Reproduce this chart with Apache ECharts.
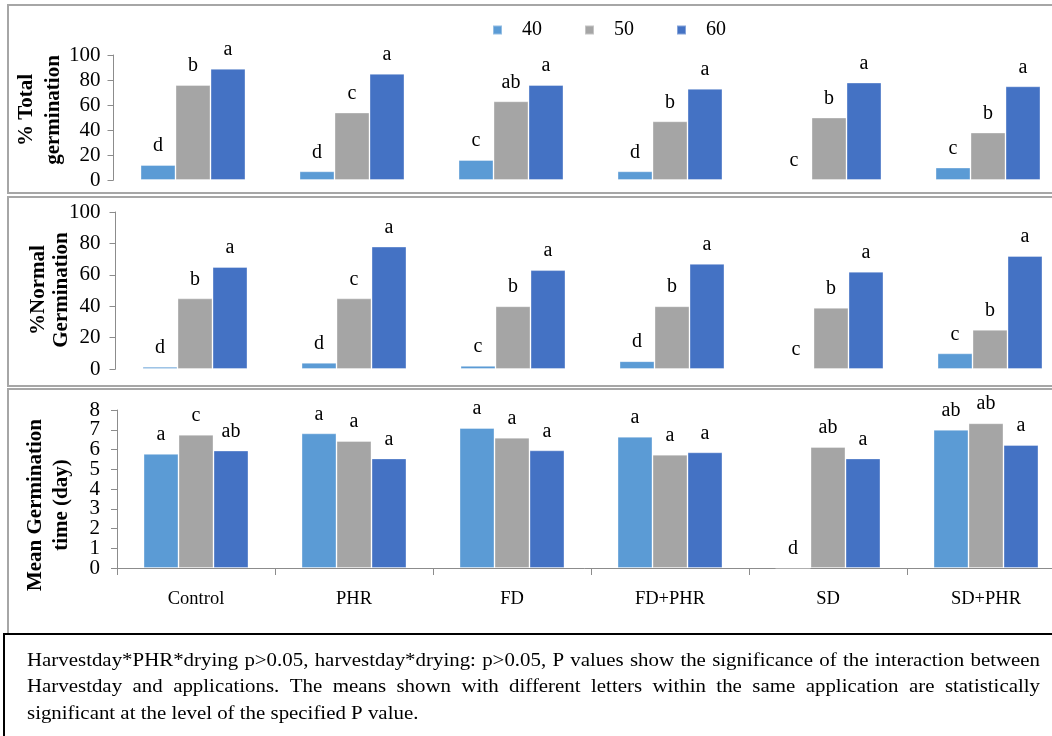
<!DOCTYPE html>
<html>
<head>
<meta charset="utf-8">
<script src="https://cdn.jsdelivr.net/npm/echarts@6/dist/echarts.min.js"></script>
<style>
html,body{margin:0;padding:0;background:#fff;}
#chart{width:1052px;height:736px;}
</style>
</head>
<body>
<div id="chart"></div>
<script>
const categories = ['Control', 'PHR', 'FD', 'FD+PHR', 'SD', 'SD+PHR'];
const harvestDays = ['40', '50', '60'];

const totalGerm40 = [12, 7, 16, 7, 0, 10];
const totalGerm50 = [76, 54, 63, 47, 50, 38];
const totalGerm60 = [89, 85, 76, 73, 78, 75];
const totalLetters40 = ['d', 'd', 'c', 'd', 'c', 'c'];
const totalLetters50 = ['b', 'c', 'ab', 'b', 'b', 'b'];
const totalLetters60 = ['a', 'a', 'a', 'a', 'a', 'a'];

const normalGerm40 = [1.5, 4, 2, 5, 0, 10];
const normalGerm50 = [45, 45, 40, 40, 39, 25];
const normalGerm60 = [65, 78, 63, 67, 62, 72];
const normalLetters40 = ['d', 'd', 'c', 'd', 'c', 'c'];
const normalLetters50 = ['b', 'c', 'b', 'b', 'b', 'b'];
const normalLetters60 = ['a', 'a', 'a', 'a', 'a', 'a'];

const mgt40 = [5.78, 6.82, 7.09, 6.65, 0, 7.0];
const mgt50 = [6.75, 6.43, 6.6, 5.74, 6.13, 7.33];
const mgt60 = [5.95, 5.55, 5.96, 5.86, 5.55, 6.23];
const mgtLetters40 = ['a', 'a', 'a', 'a', 'd', 'ab'];
const mgtLetters50 = ['c', 'a', 'a', 'a', 'ab', 'ab'];
const mgtLetters60 = ['ab', 'a', 'a', 'a', 'a', 'a'];

const axisNames = ['% Total\ngermination', '%Normal\nGermination', 'Mean Germination\ntime (day)'];

const captionLines = [
  'Harvestday*PHR*drying p>0.05, harvestday*drying: p>0.05, P values show the significance of the interaction between',
  'Harvestday and applications. The means shown with different letters within the same application are statistically',
  'significant at the level of the specified P value.'
];

const colors = ['#5B9BD5', '#A5A5A5', '#4472C4'];
const FONT = '"Liberation Serif", "Times New Roman", serif';
const axisGray = '#8c8c8c';

function makeSeries(gridIdx, valuesList, lettersList) {
  return valuesList.map((vals, i) => ({
    name: harvestDays[i],
    type: 'bar',
    xAxisIndex: gridIdx,
    yAxisIndex: gridIdx,
    data: vals,
    barWidth: 35,
    barGap: '0%',
    itemStyle: { color: colors[i], borderColor: 'rgba(255,255,255,0.35)', borderWidth: 1 },
    label: {
      show: true,
      position: 'top',
      distance: 9,
      fontFamily: FONT,
      fontSize: 20,
      color: '#000',
      formatter: p => lettersList[i][p.dataIndex]
    }
  }));
}

function yAxis(gridIdx, max, interval, margin, formatter) {
  return {
    type: 'value',
    gridIndex: gridIdx,
    position: 'left',
    min: 0, max: max, interval: interval,
    axisLine: { show: true, lineStyle: { color: axisGray, width: 1 } },
    axisTick: { show: true, length: 6, lineStyle: { color: axisGray } },
    splitLine: { show: false },
    axisLabel: {
      fontFamily: FONT, fontSize: 21, color: '#000', margin: margin,
      showMinLabel: true, showMaxLabel: true, hideOverlap: false,
      formatter: formatter || (v => String(v))
    }
  };
}

// panel 3: labels split over two overlapping axes so that dense labels are not auto-hidden
const mgtAxisMain = yAxis(2, 8, 1, 17, v => (v % 2 === 0 ? String(v) : ''));
const mgtAxisOdd = yAxis(2, 8, 1, 17, v => (v % 2 === 1 ? String(v) : ''));
mgtAxisOdd.axisLine = { show: false };
mgtAxisOdd.axisTick = { show: false };
mgtAxisOdd.axisLabel.showMinLabel = false;
mgtAxisOdd.axisLabel.showMaxLabel = false;

const chart = echarts.init(document.getElementById('chart'), null, { renderer: 'canvas' });

// justified caption words (the reference text is horizontally stretched)
const SX = 1.16;
const measureCtx = document.createElement('canvas').getContext('2d');
measureCtx.font = '18px ' + FONT;
const captionGraphics = [];
const capLeft = 27, capRight = 1040;
const capY = [661, 687, 714];
captionLines.forEach((line, li) => {
  if (li < 2) {
    const words = line.split(' ');
    const widths = words.map(w => measureCtx.measureText(w).width * SX);
    const total = widths.reduce((a, b) => a + b, 0);
    const gap = (capRight - capLeft - total) / (words.length - 1);
    let x = capLeft;
    words.forEach((w, wi) => {
      captionGraphics.push({
        type: 'text', x: x, y: capY[li], z: 10, scaleX: SX,
        style: { text: w, font: '18px ' + FONT, fill: '#000', verticalAlign: 'middle' }
      });
      x += widths[wi] + gap;
    });
  } else {
    captionGraphics.push({
      type: 'text', x: capLeft, y: capY[li], z: 10, scaleX: SX,
      style: { text: line, font: '18px ' + FONT, fill: '#000', verticalAlign: 'middle' }
    });
  }
});

const nameCenters = [[40.5, 110], [50, 290], [49, 505]];
const nameLineHeights = [27, 23, 26];
const nameGraphics = axisNames.map((t, i) => ({
  type: 'text', x: nameCenters[i][0], y: nameCenters[i][1], rotation: Math.PI / 2, z: 10,
  style: {
    text: t, font: 'bold 21px ' + FONT, fill: '#000',
    align: 'center', verticalAlign: 'middle', lineHeight: nameLineHeights[i]
  }
}));

const gridBase = { outerBoundsMode: 'none', containLabel: false };

const option = {
  animation: false,
  backgroundColor: '#fff',
  legend: {
    data: harvestDays,
    left: 492,
    top: 20,
    padding: 0,
    icon: 'rect',
    itemWidth: 9,
    itemHeight: 9,
    itemGap: 42,
    textStyle: { fontFamily: FONT, fontSize: 20, color: '#000', padding: [0, 0, 0, 15] }
  },
  grid: [
    Object.assign({ left: 113.5, top: 55, height: 125, width: 954 }, gridBase),
    Object.assign({ left: 115.5, top: 212, height: 157, width: 954 }, gridBase),
    Object.assign({ left: 117, top: 410, height: 158, width: 948 }, gridBase)
  ],
  xAxis: [
    { type: 'category', gridIndex: 0, data: categories, show: false },
    { type: 'category', gridIndex: 1, data: categories, show: false },
    {
      type: 'category', gridIndex: 2, data: categories,
      axisLine: { show: true, lineStyle: { color: axisGray, width: 1 } },
      axisTick: { show: true, length: 7, lineStyle: { color: axisGray } },
      axisLabel: { fontFamily: FONT, fontSize: 18.5, color: '#000', margin: 22, interval: 0 }
    }
  ],
  yAxis: [
    yAxis(0, 100, 20, 13),
    yAxis(1, 100, 20, 15),
    mgtAxisMain,
    mgtAxisOdd
  ],
  series: [
    ...makeSeries(0, [totalGerm40, totalGerm50, totalGerm60], [totalLetters40, totalLetters50, totalLetters60]),
    ...makeSeries(1, [normalGerm40, normalGerm50, normalGerm60], [normalLetters40, normalLetters50, normalLetters60]),
    ...makeSeries(2, [mgt40, mgt50, mgt60], [mgtLetters40, mgtLetters50, mgtLetters60])
  ],
  graphic: [
    { type: 'rect', shape: { x: 8, y: 5, width: 1070, height: 188 }, style: { fill: 'none', stroke: '#a6a6a6', lineWidth: 2 }, z: -1 },
    { type: 'rect', shape: { x: 8, y: 197, width: 1070, height: 189 }, style: { fill: 'none', stroke: '#a6a6a6', lineWidth: 2 }, z: -1 },
    { type: 'rect', shape: { x: 8, y: 389, width: 1070, height: 260 }, style: { fill: 'none', stroke: '#a6a6a6', lineWidth: 2 }, z: -1 },
    { type: 'rect', shape: { x: 4, y: 634, width: 1070, height: 120 }, style: { fill: '#fff', stroke: '#000', lineWidth: 2 }, z: 5 },
    ...nameGraphics,
    ...captionGraphics
  ]
};
chart.setOption(option);
</script>
</body>
</html>
